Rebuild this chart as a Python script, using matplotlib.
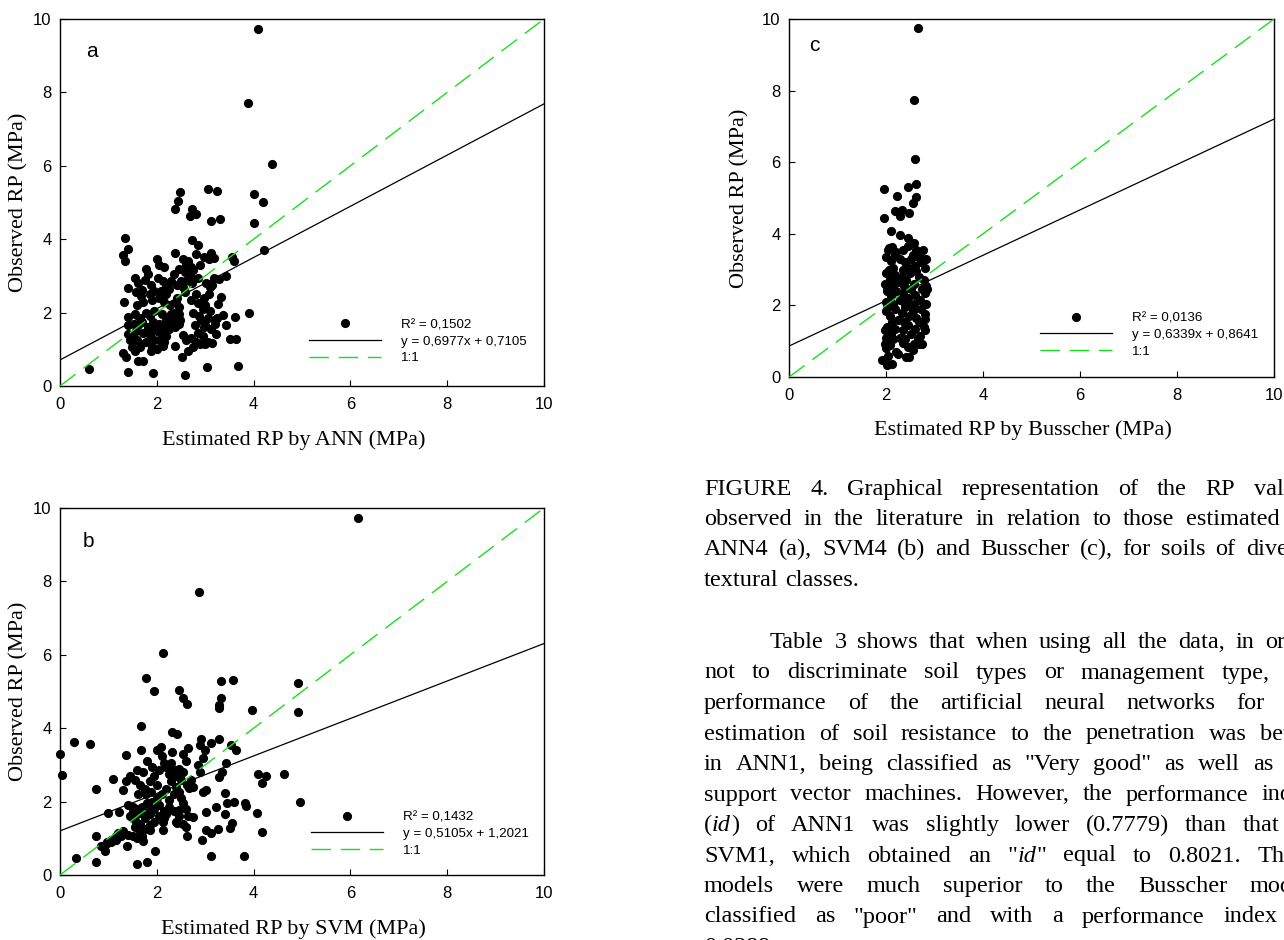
import matplotlib
matplotlib.use("Agg")
import matplotlib.pyplot as plt
from matplotlib.lines import Line2D
from matplotlib.transforms import IdentityTransform

# observed vs estimated penetration resistance (MPa)
ann_points = [
    (0.60, 0.47), (4.10, 9.73), (3.89, 7.71), (4.37, 6.06), (3.05, 5.36), (3.24, 5.31),
    (2.48, 5.29), (2.44, 5.05), (2.38, 4.83), (2.73, 4.82), (2.69, 4.63), (2.81, 4.68),
    (3.13, 4.50), (3.31, 4.56), (4.01, 5.23), (4.20, 5.01), (4.01, 4.43), (4.21, 3.71),
    (1.35, 4.03), (1.41, 3.72), (1.31, 3.57), (1.35, 3.41), (2.38, 3.63), (2.72, 3.98),
    (2.85, 3.84), (2.80, 3.60), (3.11, 3.63), (2.98, 3.52), (3.56, 3.52), (3.59, 3.41),
    (3.43, 3.00), (3.29, 2.91), (3.90, 1.98), (1.33, 2.30), (1.93, 0.36), (2.59, 0.31),
    (3.03, 0.52), (3.67, 0.54), (1.41, 0.37), (1.31, 0.89), (1.36, 0.78), (2.52, 0.79),
    (2.37, 1.10), (3.63, 1.27), (3.52, 1.29), (3.62, 1.89), (3.43, 1.66), (3.37, 1.93),
    (3.22, 1.43), (3.21, 1.80), (3.27, 2.23), (3.32, 2.43), (1.40, 2.66), (1.41, 1.89),
    (1.40, 1.66), (1.40, 1.43), (1.45, 1.24),
    (1.55, 2.95), (1.62, 2.80), (1.70, 2.62), (1.58, 2.55), (1.78, 3.20), (1.82, 3.05),
    (1.75, 2.90), (1.88, 2.75), (1.68, 2.45), (1.85, 2.50), (1.95, 2.60), (1.60, 2.20),
    (1.72, 2.30), (1.90, 2.35), (1.55, 1.95), (1.65, 1.85), (1.78, 2.00), (1.85, 1.90),
    (1.95, 2.05), (1.52, 1.70), (1.62, 1.65), (1.70, 1.75), (1.82, 1.60), (1.92, 1.75),
    (1.58, 1.50), (1.72, 1.45), (1.85, 1.40), (1.95, 1.55), (1.60, 1.25), (1.68, 1.15),
    (1.78, 1.20), (1.90, 1.05), (1.65, 1.05), (1.55, 0.95), (1.62, 0.68), (1.72, 0.68),
    (1.88, 0.95), (1.95, 1.25), (1.50, 1.30), (1.48, 1.05),
    (2.00, 3.45), (2.05, 3.30), (2.15, 3.25), (2.02, 2.95), (2.12, 2.85), (2.20, 2.75),
    (2.08, 2.60), (2.18, 2.50), (2.25, 2.65), (2.05, 2.40), (2.15, 2.30), (2.28, 2.20),
    (2.35, 2.00), (2.40, 2.30), (2.45, 2.15), (2.38, 1.85), (2.30, 1.75), (2.20, 1.80),
    (2.10, 1.95), (2.05, 1.70), (2.15, 1.60), (2.25, 1.55), (2.00, 1.50), (2.10, 1.40),
    (2.20, 1.35), (2.05, 1.25), (2.15, 1.20), (2.45, 1.95), (2.48, 1.80), (2.42, 2.40),
    (2.35, 3.05), (2.45, 3.20), (2.42, 2.75), (2.50, 2.85), (2.30, 2.85), (2.00, 1.00),
    (2.12, 1.10), (2.38, 1.60), (2.45, 1.70), (2.30, 1.95),
    (2.55, 3.45), (2.60, 3.30), (2.65, 3.40), (2.70, 3.25), (2.58, 3.10), (2.68, 3.00),
    (2.75, 3.15), (2.62, 2.90), (2.55, 2.70), (2.72, 2.80), (2.85, 2.95), (2.90, 3.30),
    (2.80, 2.50), (2.70, 2.35), (2.85, 2.25), (2.95, 2.10), (2.75, 2.00), (2.88, 1.90),
    (2.92, 1.80), (2.78, 1.65), (2.85, 1.45), (2.95, 1.35), (2.70, 1.30), (2.80, 1.20),
    (2.75, 1.05), (2.65, 0.95), (2.55, 1.40), (2.60, 1.25), (2.98, 2.40), (2.58, 2.55),
    (2.90, 1.15), (2.98, 1.60),
    (3.02, 2.80), (3.10, 2.70), (3.08, 2.50), (3.15, 2.75), (3.00, 2.20), (3.10, 2.05),
    (3.05, 1.85), (3.00, 1.65), (3.12, 1.55), (3.05, 1.20), (3.15, 1.18), (3.20, 1.70),
    (3.25, 1.85), (3.00, 1.15), (3.18, 2.95), (3.08, 3.45), (3.18, 3.50),
]

svm_points = [
    (6.15, 9.73), (2.88, 7.71), (2.12, 6.06), (1.78, 5.36), (1.95, 5.02), (2.45, 5.05),
    (2.55, 4.81), (2.63, 4.65), (3.32, 5.29), (3.57, 5.30), (3.32, 4.83), (3.28, 4.64),
    (3.29, 4.54), (3.97, 4.50), (4.92, 5.23), (4.92, 4.44), (4.96, 2.00),
    (4.62, 2.76), (4.09, 2.75), (4.26, 2.71), (4.17, 2.50), (4.06, 1.70), (4.17, 1.16),
    (3.82, 1.97), (3.84, 1.88), (3.81, 0.53), (3.12, 0.53), (0.00, 3.31), (0.04, 2.73),
    (0.29, 3.63), (0.63, 3.56), (0.74, 2.35), (1.10, 2.61), (1.30, 2.31), (1.36, 2.57),
    (1.67, 4.05), (1.67, 3.41), (1.36, 3.26), (0.34, 0.45), (0.75, 1.07), (0.75, 0.36),
    (1.59, 0.31), (1.79, 0.36), (0.93, 0.65), (1.97, 0.65), (0.98, 0.91), (1.05, 0.95),
    (1.20, 1.14), (1.39, 0.79), (0.99, 1.68), (1.22, 1.71), (2.31, 3.89), (2.41, 3.85),
    (2.09, 3.50), (2.01, 3.41), (2.31, 3.36), (2.92, 3.70), (3.28, 3.70), (3.12, 3.59),
    (3.53, 3.55), (3.63, 3.41), (3.43, 3.05), (3.34, 2.82), (3.28, 2.68), (3.41, 2.23),
    (3.46, 1.95), (3.60, 2.00), (3.41, 1.65), (3.56, 1.41), (3.52, 1.27), (3.22, 1.86),
    (3.27, 1.25), (3.12, 1.14), (3.01, 1.23), (2.93, 0.95), (3.01, 1.71), (3.01, 2.32),
    (2.62, 1.07), (2.60, 1.32), (2.75, 1.59), (2.67, 2.36), (2.45, 1.77), (2.42, 1.43),
    (2.13, 1.23), (2.13, 1.44), (1.86, 1.23),
    (1.45, 2.70), (1.55, 2.60), (1.60, 2.85), (1.72, 2.80), (1.65, 2.45), (1.75, 2.35),
    (1.62, 2.20), (1.80, 3.10), (1.90, 2.95), (1.95, 2.70), (1.85, 2.55), (2.00, 2.45),
    (2.05, 2.85), (2.15, 3.05), (2.10, 3.25), (2.20, 2.95), (2.25, 2.75), (2.30, 3.05),
    (2.35, 2.85), (2.40, 2.70), (2.45, 2.90), (2.50, 2.60), (2.55, 3.30), (2.60, 3.10),
    (2.65, 3.45), (2.55, 2.80), (2.62, 2.45), (2.70, 2.60), (2.85, 3.00), (2.90, 2.80),
    (2.95, 3.20), (3.00, 3.40), (2.90, 3.55), (2.40, 2.40), (2.30, 2.55), (2.20, 2.35),
    (2.10, 2.20), (2.00, 2.10), (1.90, 2.00), (1.80, 1.95), (1.70, 1.85), (1.60, 1.80),
    (1.50, 1.85), (1.40, 1.90), (1.45, 1.60), (1.55, 1.50), (1.65, 1.40), (1.75, 1.55),
    (1.85, 1.65), (1.95, 1.80), (2.05, 1.90), (2.15, 1.75), (2.25, 2.05), (2.35, 2.20),
    (2.45, 2.25), (2.50, 2.10), (2.55, 1.95), (2.60, 1.80), (2.65, 1.60), (2.45, 1.60),
    (2.35, 1.75), (2.25, 1.85), (2.15, 1.55), (2.05, 1.60), (1.95, 1.45), (1.85, 1.35),
    (1.75, 1.25), (1.65, 1.20), (1.55, 1.30), (1.70, 1.05), (1.72, 0.92), (1.60, 1.00),
    (1.50, 1.05), (1.40, 1.10), (1.30, 1.20), (1.25, 1.05), (1.15, 0.95), (1.05, 0.90),
    (0.85, 0.80), (0.95, 0.85), (1.15, 1.05), (1.85, 1.75), (1.98, 1.95), (2.40, 1.45),
    (2.55, 1.40), (2.75, 2.40), (2.95, 2.25), (2.48, 2.75), (2.20, 1.65), (1.88, 2.25),
    (1.78, 2.20), (1.68, 1.70), (1.58, 1.65), (1.50, 1.75),
]

busscher_points = [
    (2.67, 9.76), (2.58, 7.73), (2.60, 6.08), (2.62, 5.38), (2.46, 5.32), (2.61, 5.03),
    (2.55, 4.85), (1.95, 5.25), (2.22, 5.06), (1.95, 4.45), (2.19, 4.63), (2.32, 4.66),
    (2.28, 4.50), (2.48, 4.59), (2.10, 4.07), (2.28, 3.96), (2.46, 3.87), (2.58, 3.73),
    (1.92, 0.48), (2.02, 0.33), (2.12, 0.37), (2.20, 0.70), (2.41, 0.56), (2.48, 0.56),
    (2.58, 0.93), (2.74, 0.93), (2.80, 1.30), (2.80, 1.63), (2.82, 2.05), (2.84, 2.47),
    (2.83, 3.31), (2.76, 3.54), (1.98, 1.30), (1.97, 0.93), (2.02, 1.96), (2.02, 2.52),
    (2.06, 2.98), (2.06, 3.59),
    (2.05, 3.55), (2.12, 3.62), (2.20, 3.50), (2.35, 3.55), (2.45, 3.65), (2.62, 3.55),
    (2.70, 3.45), (2.55, 3.40), (2.00, 3.35), (2.10, 3.25), (2.18, 3.40), (2.28, 3.30),
    (2.40, 3.20), (2.52, 3.30), (2.60, 3.10), (2.72, 3.20), (2.80, 3.05), (2.15, 3.05),
    (2.35, 3.00), (2.48, 3.05), (2.65, 3.35), (2.00, 2.90), (2.08, 2.75), (2.18, 2.85),
    (2.25, 2.65), (2.32, 2.80), (2.42, 2.70), (2.50, 2.90), (2.58, 2.60), (2.68, 2.80),
    (2.78, 2.70), (2.82, 2.55), (2.12, 2.55), (2.38, 2.55), (2.62, 2.95), (1.98, 2.60),
    (2.02, 2.40), (2.10, 2.25), (2.20, 2.40), (2.28, 2.15), (2.35, 2.35), (2.45, 2.20),
    (2.52, 2.45), (2.60, 2.30), (2.70, 2.15), (2.80, 2.35), (2.15, 2.05), (2.40, 2.05),
    (2.58, 2.05), (2.75, 2.45), (2.00, 2.10), (2.00, 1.85), (2.08, 1.70), (2.18, 1.90),
    (2.25, 1.60), (2.32, 1.80), (2.40, 1.95), (2.48, 1.70), (2.55, 1.85), (2.62, 1.65),
    (2.72, 1.90), (2.80, 1.75), (2.12, 1.55), (2.38, 1.55), (2.68, 1.55), (2.50, 1.98),
    (2.02, 1.40), (2.10, 1.20), (2.18, 1.35), (2.28, 1.10), (2.35, 1.30), (2.45, 1.45),
    (2.52, 1.20), (2.60, 1.35), (2.70, 1.15), (2.78, 1.40), (2.40, 1.05), (2.65, 1.05),
    (2.15, 1.05), (2.00, 1.10), (2.00, 0.80), (2.08, 0.90), (2.25, 0.65), (2.35, 0.95),
    (2.45, 0.85), (2.55, 0.75), (2.68, 0.92), (2.05, 0.60),
]

# regression results: (r2, slope, intercept)
ann_fit = (0.1502, 0.6977, 0.7105)
svm_fit = (0.1432, 0.5105, 1.2021)
busscher_fit = (0.0136, 0.6339, 0.8641)

panel_letters = ["a", "b", "c"]
x_titles = ["Estimated RP by ANN (MPa)", "Estimated RP by SVM (MPa)",
            "Estimated RP by Busscher (MPa)"]
y_title = "Observed RP (MPa)"
ticks = [0, 2, 4, 6, 8, 10]

caption_lines = [
    "FIGURE 4. Graphical representation of the RP values",
    "observed in the literature in relation to those estimated by",
    "ANN4 (a), SVM4 (b) and Busscher (c), for soils of diverse",
    "textural classes.",
]
paragraph_lines = [
    "Table 3 shows that when using all the data, in order",
    "not to discriminate soil types or management type, the",
    "performance of the artificial neural networks for the",
    "estimation of soil resistance to the penetration was better",
    'in ANN1, being classified as "Very good" as well as the',
    "support vector machines. However, the performance index",
    "(*id*) of ANN1 was slightly lower (0.7779) than that of",
    'SVM1, which obtained an "*id*" equal to 0.8021. These',
    "models were much superior to the Busscher model,",
    'classified as "poor" and with a performance index of',
    "0.0389.",
]

W, H = 1284, 940
GREEN = "#18e018"
SANS = "Liberation Sans"
SERIF = "Liberation Serif"

fig = plt.figure(figsize=(W / 100, H / 100), dpi=100)


def add_axes_px(left, top, right, bottom):
    return fig.add_axes([left / W, 1 - bottom / H, (right - left) / W, (bottom - top) / H])


def fmt(v):
    return f"{v:.4f}".replace(".", ",")


def draw_panel(ax, points, fit, letter, xtitle, legend_anchor, letter_pos):
    r2, slope, intercept = fit
    xs = [p[0] for p in points]
    ys = [p[1] for p in points]
    ax.plot(xs, ys, "o", color="black", ms=6.6, mew=0, zorder=2, clip_on=False)
    line_x = [0, 10]
    ax.plot(line_x, [slope * v + intercept for v in line_x], color="black", lw=0.9, zorder=3)
    ax.plot(line_x, line_x, color=GREEN, lw=1.0, dashes=(14, 7), zorder=3)

    ax.set_xlim(0, 10)
    ax.set_ylim(0, 10)
    ax.set_xticks(ticks)
    ax.set_yticks(ticks)
    ax.tick_params(direction="in", length=4, width=0.8, labelsize=12, top=False, right=False)
    ax.tick_params(axis="x", pad=8)
    ax.tick_params(axis="y", pad=6)
    for lab in ax.get_xticklabels() + ax.get_yticklabels():
        lab.set_family(SANS)
    for sp in ax.spines.values():
        sp.set_linewidth(1.0)

    ax.set_xlabel(xtitle, fontsize=16, family=SERIF)
    ax.set_ylabel(y_title, fontsize=16, family=SERIF)
    ax.xaxis.label.set_verticalalignment("center")
    ax.yaxis.label.set_verticalalignment("center")
    ax.xaxis.set_label_coords(0.482, -0.148)
    ax.yaxis.set_label_coords(-0.085, 0.5)

    ax.text(letter_pos[0], letter_pos[1], letter, fontsize=15, family=SANS,
            ha="center", va="center")

    handles = [
        Line2D([], [], marker="o", ls="none", color="black", ms=6.6, mew=0),
        Line2D([], [], color="black", lw=0.9),
        Line2D([], [], color=GREEN, lw=1.0, dashes=(14, 7)),
    ]
    labels = [f"R\u00b2 = {fmt(r2)}", f"y = {fmt(slope)}x + {fmt(intercept)}", "1:1"]
    ax.legend(handles, labels, loc="lower left", bbox_to_anchor=legend_anchor,
              frameon=False, borderpad=0, borderaxespad=0, handlelength=5.4,
              handletextpad=1.5, labelspacing=0.32, prop={"family": SANS, "size": 9.6})


ax_a = add_axes_px(60, 19, 544, 386)
ax_b = add_axes_px(60, 508, 544, 875)
ax_c = add_axes_px(789, 19, 1274, 377)

draw_panel(ax_a, ann_points, ann_fit, panel_letters[0], x_titles[0], (0.514, 0.059), (0.65, 9.11))
draw_panel(ax_b, svm_points, svm_fit, panel_letters[1], x_titles[1], (0.518, 0.050), (0.58, 9.08))
draw_panel(ax_c, busscher_points, busscher_fit, panel_letters[2], x_titles[2], (0.518, 0.054), (0.53, 9.27))
ax_c.yaxis.set_label_coords(-0.101, 0.5)

# body text, justified between two margins (pixel coordinates from the top)
BODY_SIZE = 17.5
LEFT, RIGHT = 704, 1316
INDENT = 66
renderer = fig.canvas.get_renderer()


def word_parts(word):
    parts = word.split("*")
    return [(p, "italic" if i % 2 else "normal") for i, p in enumerate(parts) if p]


def text_width(s, style):
    t = fig.text(0, 0, s, fontsize=BODY_SIZE, family=SERIF, style=style,
                 transform=IdentityTransform())
    w = t.get_window_extent(renderer).width
    t.remove()
    return w


def put_line(line, baseline, x0, justify):
    words = [word_parts(w) for w in line.split(" ")]
    widths = [sum(text_width(s, st) for s, st in parts) for parts in words]
    space = BODY_SIZE * 100 / 72 * 0.25
    if justify and len(words) > 1:
        space = (RIGHT - x0 - sum(widths)) / (len(words) - 1)
    x = x0
    for parts, w in zip(words, widths):
        cx = x
        for s, st in parts:
            fig.text(cx, H - baseline, s, fontsize=BODY_SIZE, family=SERIF, style=st,
                     transform=IdentityTransform(), ha="left", va="baseline")
            cx += text_width(s, st)
        x += w + space


caption_base = [495, 525, 555, 586]
for i, line in enumerate(caption_lines):
    put_line(line, caption_base[i], LEFT, i < len(caption_lines) - 1)

para_base = [648 + 30.5 * i for i in range(len(paragraph_lines))]
for i, line in enumerate(paragraph_lines):
    x0 = LEFT + INDENT if i == 0 else LEFT
    put_line(line, para_base[i], x0, i < len(paragraph_lines) - 1)

fig.savefig("out.png", dpi=100)
